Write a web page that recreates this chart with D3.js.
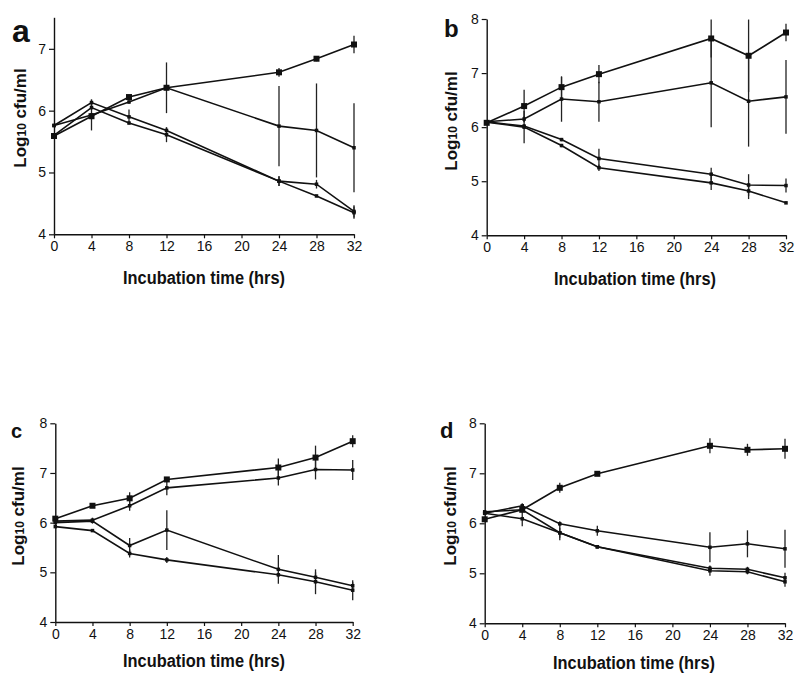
<!DOCTYPE html>
<html>
<head>
<meta charset="utf-8">
<script src="https://cdn.jsdelivr.net/npm/d3@7"></script>
<style>
  html, body { margin: 0; padding: 0; background: #fff; }
  svg { display: block; }
</style>
</head>
<body>
<svg id="chart" width="800" height="679"></svg>
<script>
// ---------------- DATA ----------------
const hours = [0, 4, 8, 12, 24, 28, 32];
const xTickValues = [0, 4, 8, 12, 16, 20, 24, 28, 32];
const yTicksA = [4, 5, 6, 7];
const yTicksB = [4, 5, 6, 7, 8];
const panelLetters = ["a", "b", "c", "d"];
const xTitle = "Incubation time (hrs)";

// panel a (series 1 = squares, top line)
const panelA_values = [
  [5.59, 5.91, 6.22, 6.37, 6.62, 6.84, 7.07],
  [5.76, 5.93, 6.14, 6.37, 5.75, 5.68, 5.40],
  [5.76, 6.13, 5.90, 5.68, 4.86, 4.81, 4.37],
  [5.60, 6.05, 5.80, 5.61, 4.86, 4.62, 4.35]
];
const panelA_errors = [
  [0.03, 0.05, 0.03, 0.05, 0.07, 0.04, 0.14],
  [0.02, 0.25, 0.03, 0.41, 0.65, 0.76, 0.72],
  [0.02, 0.05, 0.12, 0.05, 0.08, 0.07, 0.10],
  [0.02, 0.03, 0.02, 0.12, 0.08, 0.02, 0.10]
];
// panel b
const panelB_values = [
  [6.08, 6.39, 6.74, 6.98, 7.64, 7.32, 7.75],
  [6.10, 6.15, 6.52, 6.47, 6.82, 6.48, 6.56],
  [6.10, 6.02, 5.77, 5.42, 5.13, 4.93, 4.92],
  [6.09, 6.00, 5.66, 5.25, 4.97, 4.82, 4.60]
];
const panelB_errors = [
  [0.03, 0.30, 0.19, 0.17, 0.35, 0.67, 0.16],
  [0.02, 0.05, 0.42, 0.37, 0.82, 0.84, 0.68],
  [0.02, 0.04, 0.03, 0.18, 0.12, 0.20, 0.13],
  [0.02, 0.30, 0.03, 0.06, 0.13, 0.15, 0.02]
];
// panel c
const panelC_values = [
  [6.08, 6.34, 6.49, 6.87, 7.11, 7.31, 7.64],
  [6.03, 6.05, 6.34, 6.70, 6.90, 7.07, 7.06],
  [6.00, 6.03, 5.54, 5.85, 5.06, 4.90, 4.73],
  [5.92, 5.84, 5.38, 5.25, 4.95, 4.81, 4.64]
];
const panelC_errors = [
  [0.03, 0.03, 0.12, 0.04, 0.18, 0.24, 0.12],
  [0.02, 0.05, 0.10, 0.15, 0.15, 0.20, 0.20],
  [0.02, 0.05, 0.15, 0.40, 0.29, 0.10, 0.07],
  [0.02, 0.02, 0.08, 0.06, 0.05, 0.25, 0.20]
];
// panel d
const panelD_values = [
  [6.08, 6.27, 6.71, 6.99, 7.55, 7.47, 7.49],
  [6.20, 6.35, 5.99, 5.85, 5.52, 5.59, 5.49],
  [6.23, 6.27, 5.81, 5.53, 5.10, 5.08, 4.91],
  [6.20, 6.09, 5.81, 5.53, 5.05, 5.03, 4.83]
];
const panelD_errors = [
  [0.03, 0.04, 0.10, 0.03, 0.15, 0.12, 0.20],
  [0.02, 0.05, 0.05, 0.10, 0.30, 0.27, 0.38],
  [0.02, 0.04, 0.15, 0.03, 0.05, 0.05, 0.10],
  [0.02, 0.15, 0.10, 0.03, 0.10, 0.05, 0.10]
];

// ---------------- LAYOUT ----------------
const panels = [
  { letter: panelLetters[0], values: panelA_values, errors: panelA_errors, yTicks: yTicksA, yMax: 7.51,
    xr: [54, 354], yr: [234.3, 17.3], letterPos: [12, 42], letterSize: 32,
    yTitle: [20, 118], xTitlePos: [204, 284] },
  { letter: panelLetters[1], values: panelB_values, errors: panelB_errors, yTicks: yTicksB, yMax: 8,
    xr: [486.7, 786], yr: [235.3, 19], letterPos: [444, 37], letterSize: 24,
    yTitle: [451, 121], xTitlePos: [635, 285] },
  { letter: panelLetters[2], values: panelC_values, errors: panelC_errors, yTicks: yTicksB, yMax: 8,
    xr: [55.3, 352.7], yr: [622, 423.3], letterPos: [11, 438], letterSize: 20,
    yTitle: [18, 516], xTitlePos: [204, 667] },
  { letter: panelLetters[3], values: panelD_values, errors: panelD_errors, yTicks: yTicksB, yMax: 8,
    xr: [484.7, 785], yr: [623.3, 423.3], letterPos: [440, 438], letterSize: 22,
    yTitle: [450, 516], xTitlePos: [634, 669] }
];

const svg = d3.select("#chart");
const FONT = "'Liberation Sans', Arial, Helvetica, sans-serif";

panels.forEach(p => {
  const x = d3.scaleLinear().domain([0, 32]).range(p.xr);
  const y = d3.scaleLinear().domain([4, p.yMax]).range(p.yr);
  const g = svg.append("g");

  // axes
  const xAxis = d3.axisBottom(x).tickValues(xTickValues).tickFormat(d3.format("d"))
    .tickSize(4).tickPadding(3).tickSizeOuter(0);
  const gx = g.append("g").attr("transform", `translate(0,${p.yr[0]})`).call(xAxis);
  const yAxis = d3.axisLeft(y).tickValues(p.yTicks).tickFormat(d3.format("d"))
    .tickSize(5).tickPadding(3).tickSizeOuter(0);
  const gy = g.append("g").attr("transform", `translate(${p.xr[0]},0)`).call(yAxis);
  [gx, gy].forEach(ax => {
    ax.select(".domain").attr("stroke", "#111").attr("stroke-width", 1.4);
    ax.selectAll(".tick line").attr("stroke", "#111").attr("stroke-width", 1.2);
    ax.selectAll(".tick text").attr("fill", "#111").style("font-family", FONT).style("font-size", "14px");
  });

  // error bars
  p.values.forEach((series, si) => {
    g.append("g").selectAll("line").data(series.map((v, i) => ({ t: hours[i], v, e: p.errors[si][i] })))
      .join("line")
      .attr("x1", d => x(d.t)).attr("x2", d => x(d.t))
      .attr("y1", d => y(Math.min(p.yMax, d.v + d.e))).attr("y2", d => y(d.v - d.e))
      .attr("stroke", "#222").attr("stroke-width", 1.3);
  });

  // lines + markers
  const line = d3.line().x((d, i) => x(hours[i])).y(d => y(d));
  p.values.forEach((series, si) => {
    g.append("path").datum(series).attr("d", line)
      .attr("fill", "none").attr("stroke", "#111").attr("stroke-width", 1.6);
    const s = si === 0 ? 6 : 3.5;
    g.append("g").selectAll("rect").data(series).join("rect")
      .attr("x", (d, i) => x(hours[i]) - s / 2).attr("y", d => y(d) - s / 2)
      .attr("width", s).attr("height", s).attr("fill", "#111");
  });

  // panel letter
  g.append("text").attr("x", p.letterPos[0]).attr("y", p.letterPos[1])
    .style("font-family", FONT).style("font-weight", "bold").style("font-size", p.letterSize + "px")
    .attr("fill", "#111").text(p.letter);

  // y title
  const yt = g.append("text")
    .attr("transform", `translate(${p.yTitle[0]},${p.yTitle[1]}) rotate(-90)`)
    .attr("text-anchor", "middle").attr("dominant-baseline", "central")
    .style("font-family", FONT).style("font-weight", "bold").style("font-size", "17px")
    .attr("fill", "#111");
  yt.append("tspan").text("Log");
  yt.append("tspan").style("font-size", "12px").attr("dy", 2).text("10");
  yt.append("tspan").attr("dy", -2).text(" cfu/ml");

  // x title
  g.append("text").attr("x", p.xTitlePos[0]).attr("y", p.xTitlePos[1])
    .attr("text-anchor", "middle")
    .attr("textLength", 162).attr("lengthAdjust", "spacingAndGlyphs")
    .style("font-family", FONT).style("font-weight", "bold").style("font-size", "18px")
    .attr("fill", "#111").text(xTitle);
});
</script>
</body>
</html>
